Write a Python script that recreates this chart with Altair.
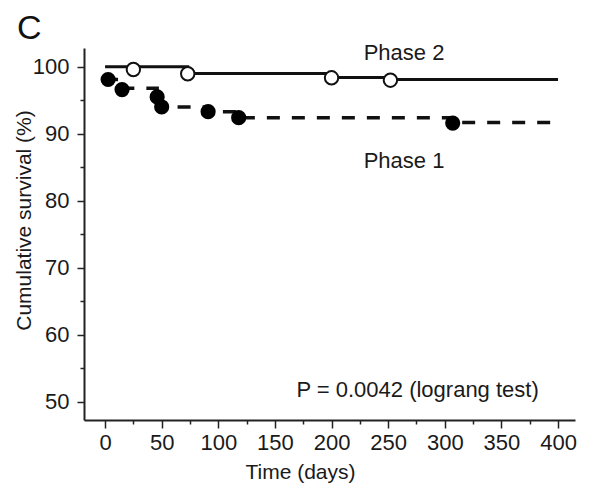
import altair as alt
import pandas as pd

FONT = "Liberation Sans"

# Phase 2 (open circles, solid step line)
p2_line_days = [0, 73, 200, 252, 400]
p2_line_vals = [100, 99.0, 98.4, 98.1, 98.1]
p2_pt_days = [25, 73, 200, 252]
p2_pt_vals = [99.6, 98.95, 98.35, 98.0]

# Phase 1 (filled circles, dashed step line)
p1_line_days = [0, 15, 46, 50, 91, 118, 307, 400]
p1_line_vals = [98.1, 96.8, 95.5, 94.0, 93.3, 92.4, 91.7, 91.7]
p1_pt_days = [2.7, 15, 46, 50, 91, 118, 307]
p1_pt_vals = [98.1, 96.6, 95.5, 94.0, 93.3, 92.4, 91.6]

x_ticks = list(range(0, 401, 25))
y_ticks = list(range(50, 101, 5))

labels_text = ["Phase 2", "Phase 1"]
labels_day = [264, 264]
labels_val = [101.0, 84.9]

p_text = "P = 0.0042 (lograng test)"
p_day = 383
p_val = 50.75

l2 = pd.DataFrame({"day": p2_line_days, "val": p2_line_vals})
l1 = pd.DataFrame({"day": p1_line_days, "val": p1_line_vals})
m2 = pd.DataFrame({"day": p2_pt_days, "val": p2_pt_vals})
m1 = pd.DataFrame({"day": p1_pt_days, "val": p1_pt_vals})
lab = pd.DataFrame({"day": labels_day, "val": labels_val, "t": labels_text})
pt = pd.DataFrame({"day": [p_day], "val": [p_val], "t": [p_text]})

xs = alt.Scale(domain=[-18.6, 415], nice=False, zero=False)
ys = alt.Scale(domain=[47.3, 102.8], nice=False, zero=False)

xaxis = alt.Axis(
    values=x_ticks,
    labelExpr="datum.value % 50 === 0 ? datum.label : ''",
    tickSize={"condition": {"test": "datum.value % 50 === 0", "value": 8}, "value": 4},
    title="Time (days)",
    titleX=216, titleY=58, titleAlign="center", titleBaseline="alphabetic",
    labelPadding=4, grid=False,
)
yaxis = alt.Axis(
    values=y_ticks,
    labelExpr="datum.value % 10 === 0 ? datum.label : ''",
    tickSize={"condition": {"test": "datum.value % 10 === 0", "value": 7}, "value": 4},
    title="Cumulative survival (%)",
    titleX=-60, titleY=172, titleAngle=-90, titleAlign="center", titleBaseline="middle",
    labelPadding=8, grid=False,
)

X = alt.X("day:Q", scale=xs, axis=xaxis)
Y = alt.Y("val:Q", scale=ys, axis=yaxis)

line2 = alt.Chart(l2).mark_line(interpolate="step-after", color="#111", strokeWidth=3).encode(x=X, y=Y)
line1 = alt.Chart(l1).mark_line(interpolate="step-after", color="#111", strokeWidth=3.5,
                                strokeDash=[13, 12]).encode(x=X, y=Y)
pts2 = alt.Chart(m2).mark_point(shape="circle", filled=True, fill="white", stroke="#111",
                                strokeWidth=2, size=180, opacity=1).encode(x=X, y=Y)
pts1 = alt.Chart(m1).mark_point(shape="circle", filled=True, fill="#000", size=230,
                                opacity=1).encode(x=X, y=Y)
labs = alt.Chart(lab).mark_text(font=FONT, fontSize=22, color="#1a1a1a", align="center",
                                baseline="alphabetic").encode(x=X, y=Y, text="t:N")
ptxt = alt.Chart(pt).mark_text(font=FONT, fontSize=22, color="#1a1a1a", align="right",
                               baseline="alphabetic").encode(x=X, y=Y, text="t:N")
cl = alt.Chart(pt).mark_text(font=FONT, fontSize=34, color="#111", align="left",
                             baseline="alphabetic").encode(
    x=alt.value(-67), y=alt.value(-9), text=alt.value("C"))

chart = alt.layer(line2, line1, pts2, pts1, labs, ptxt, cl).properties(
    width=491, height=372,
    autosize=alt.AutoSizeParams(type="none"),
    padding={"left": 76, "top": 40, "right": 6, "bottom": 68},
).configure_view(stroke=None).configure_axis(
    labelFont=FONT, titleFont=FONT, labelFontSize=22, titleFontSize=21,
    labelColor="#1a1a1a", titleColor="#1a1a1a", titleFontWeight="normal",
    domainColor="#222", domainWidth=2, tickColor="#222", tickWidth=1.5,
)

chart.save("out.html", embed_options={"renderer": "svg", "actions": False})
